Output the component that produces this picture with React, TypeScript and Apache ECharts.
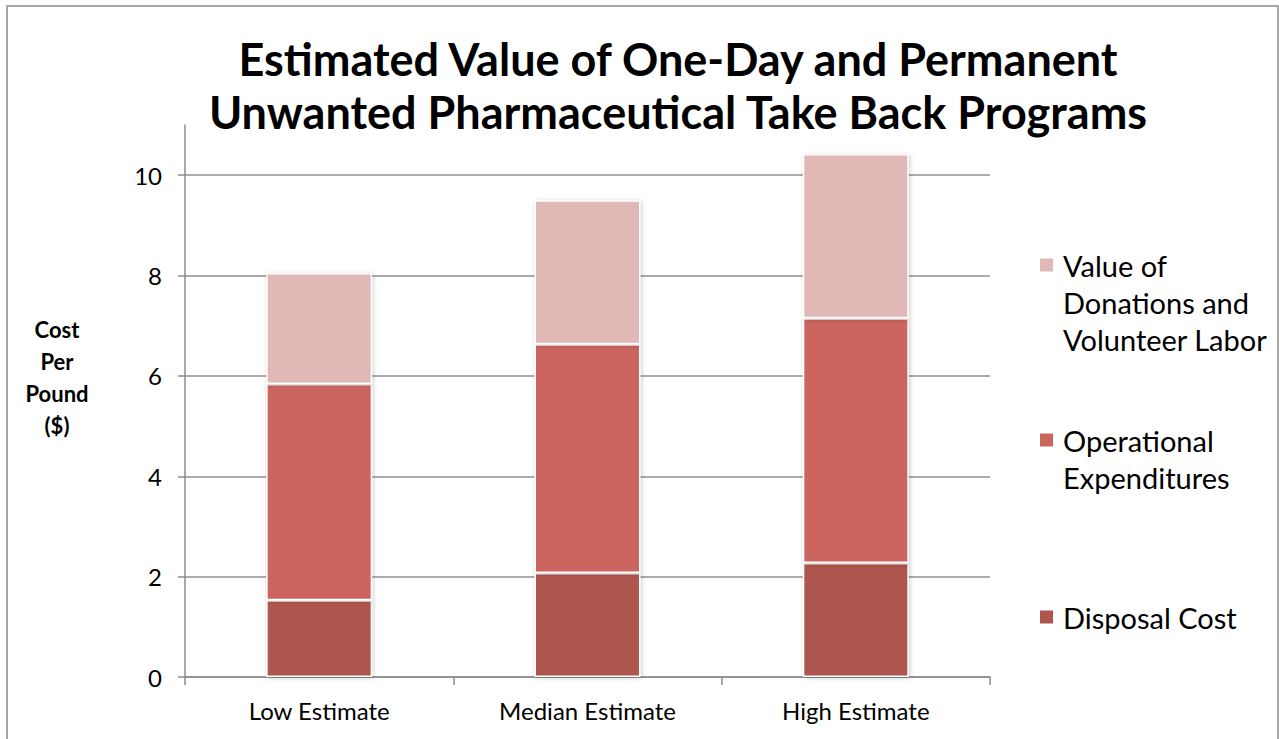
import React, { useEffect, useRef } from "react";
import * as echarts from "echarts";

// Cost per pound ($) by estimate scenario
const categories = ["Low Estimate", "Median Estimate", "High Estimate"];
const disposalCost = [1.53, 2.07, 2.27];
const operationalExpenditures = [4.31, 4.56, 4.88];
const donationsAndVolunteerLabor = [2.21, 2.87, 3.27];
const yTickValues = [0, 2, 4, 6, 8, 10];

const seriesNames = {
  disposal: "Disposal Cost",
  operational: "Operational Expenditures",
  donations: "Value of Donations and Volunteer Labor",
};
// Legend labels wrap like this
const legendLines: Record<string, string[]> = {
  [seriesNames.donations]: ["Value of", "Donations and", "Volunteer Labor"],
  [seriesNames.operational]: ["Operational", "Expenditures"],
  [seriesNames.disposal]: ["Disposal Cost"],
};

const FONT = "Lato, 'Open Sans', sans-serif";
const LEGEND_LINE = 37;

// The legend centres its icon on the text block, so blank lines are put
// ahead of the wrapped name to keep the icon level with the first line.
function legendFor(name: string, iconCenterY: number) {
  const n = legendLines[name].length;
  const blockH = (2 * n - 1) * LEGEND_LINE;
  const lead = new Array(n - 1).fill(" ").join("\n");
  return {
    data: [name],
    orient: "vertical" as const,
    left: 1038,
    top: iconCenterY - blockH / 2,
    padding: 0,
    itemWidth: 15,
    itemHeight: 15,
    icon: "rect",
    selectedMode: false,
    formatter: (nm: string) =>
      (n > 1 ? lead + "\n" : "") + legendLines[nm].join("\n"),
    textStyle: {
      fontFamily: FONT,
      fontSize: 29,
      color: "#000",
      lineHeight: LEGEND_LINE,
      padding: [0, 0, 0, 4],
    },
  };
}

export default function App() {
  const ref = useRef<HTMLDivElement>(null);

  useEffect(() => {
    if (!ref.current) return;
    const chart = echarts.init(ref.current, null, { renderer: "svg" });
    const barShadow = {
      borderColor: "#ffffff",
      borderWidth: 1.5,
      shadowBlur: 4,
      shadowColor: "rgba(0,0,0,0.22)",
      shadowOffsetX: 1,
      shadowOffsetY: 1,
    };
    chart.setOption({
      animation: false,
      backgroundColor: "#ffffff",
      title: {
        text: "Estimated Value of One-Day and Permanent\nUnwanted Pharmaceutical Take Back Programs",
        left: 673,
        top: 27,
        textAlign: "center",
        textStyle: {
          fontFamily: FONT,
          fontWeight: "bold",
          fontSize: 45,
          lineHeight: 53,
          color: "#000",
        },
      },
      legend: [
        legendFor(seriesNames.donations, 265),
        legendFor(seriesNames.operational, 440),
        legendFor(seriesNames.disposal, 617),
      ],
      grid: { left: 185, right: 289, top: 125, bottom: 62 },
      xAxis: {
        type: "category",
        data: categories,
        axisLine: { lineStyle: { color: "#8c8c8c", width: 1.5 } },
        axisTick: { show: true, length: 8, lineStyle: { color: "#8c8c8c", width: 1.5 } },
        axisLabel: { fontFamily: FONT, fontSize: 24, color: "#000", margin: 21 },
      },
      yAxis: {
        type: "value",
        min: 0,
        max: 11,
        interval: 1,
        axisLine: { show: true, lineStyle: { color: "#8c8c8c", width: 1.5 } },
        axisTick: {
          show: true,
          length: 7,
          customValues: yTickValues,
          lineStyle: { color: "#8c8c8c", width: 1.5 },
        },
        axisLabel: {
          customValues: yTickValues,
          fontFamily: FONT,
          fontSize: 24,
          color: "#000",
          margin: 23,
        },
        splitLine: { show: true, lineStyle: { color: "#8f8f8f", width: 1.5 } },
      },
      graphic: [
        {
          type: "rect",
          shape: { x: 7, y: 6, width: 1271, height: 760 },
          style: { fill: "none", stroke: "#a6a6a6", lineWidth: 2 },
          silent: true,
        },
        {
          type: "text",
          x: 57,
          y: 313,
          style: {
            text: "Cost\nPer\nPound\n($)",
            fontFamily: FONT,
            fontWeight: "bold",
            fontSize: 22,
            lineHeight: 32,
            align: "center",
            fill: "#000",
          },
        },
      ],
      series: [
        {
          name: seriesNames.disposal,
          type: "bar",
          stack: "total",
          barWidth: 106,
          data: disposalCost,
          itemStyle: { color: "#AE554E", ...barShadow },
        },
        {
          name: seriesNames.operational,
          type: "bar",
          stack: "total",
          barWidth: 106,
          data: operationalExpenditures,
          itemStyle: { color: "#CC655E", ...barShadow },
        },
        {
          name: seriesNames.donations,
          type: "bar",
          stack: "total",
          barWidth: 106,
          data: donationsAndVolunteerLabor,
          itemStyle: { color: "#E0B8B6", ...barShadow },
        },
      ],
    });
    return () => chart.dispose();
  }, []);

  return (
    <div
      ref={ref}
      style={{ position: "fixed", left: 0, top: 0, width: 1279, height: 739 }}
    />
  );
}
